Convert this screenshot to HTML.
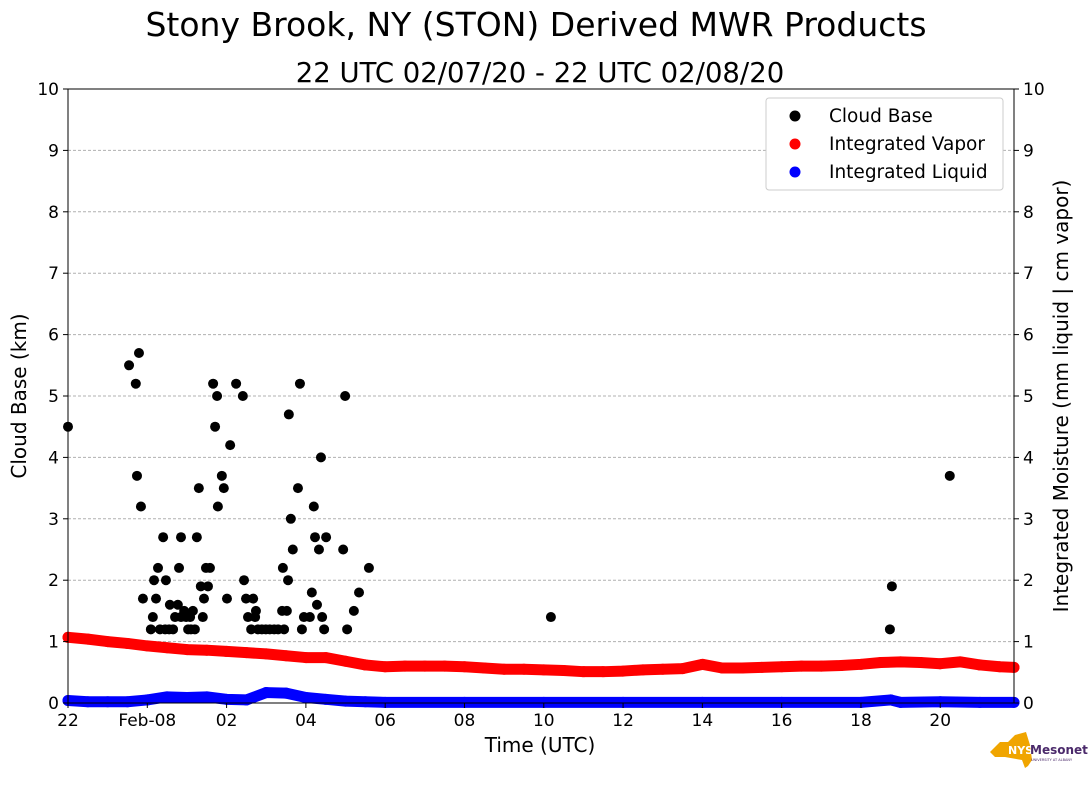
<!DOCTYPE html>
<html><head><meta charset="utf-8"><style>
body{margin:0;background:#fff;}
svg{display:block;font-family:"DejaVu Sans","Liberation Sans",sans-serif;}
</style></head><body>
<svg id="chart" width="1089" height="804">
<text x="536" y="36" font-size="33" text-anchor="middle">Stony Brook, NY (STON) Derived MWR Products</text>
<text x="540" y="82" font-size="27.5" text-anchor="middle">22 UTC 02/07/20 - 22 UTC 02/08/20</text>
<g id="grid"></g><g id="marks"></g><g id="axes"></g>
<text x="540" y="752" font-size="20" text-anchor="middle">Time (UTC)</text>
<text transform="translate(26,396) rotate(-90)" font-size="20" text-anchor="middle">Cloud Base (km)</text>
<text transform="translate(1068,396) rotate(-90)" font-size="20" text-anchor="middle">Integrated Moisture (mm liquid | cm vapor)</text>
<g>
<rect x="766" y="98" width="237" height="92" rx="3" fill="#fff" stroke="#ccc"/>
<circle cx="795" cy="116" r="5.5" fill="#000"/><text x="829" y="122" font-size="18.5">Cloud Base</text>
<circle cx="795" cy="144" r="5.5" fill="red"/><text x="829" y="150" font-size="18.5">Integrated Vapor</text>
<circle cx="795" cy="172" r="5.5" fill="blue"/><text x="829" y="178" font-size="18.5">Integrated Liquid</text>
</g>
<g>
<path d="M990 752 L1000 742 L1008 742 L1015 735 L1026 732 L1030 745 L1032 760 L1028 766 L1025 768 L1022 760 L1005 757 L995 757 Z" fill="#f0a500"/>
<text x="1008" y="754" font-size="11" font-weight="bold" fill="#fff">NYS</text>
<text x="1030" y="754" font-size="12" font-weight="bold" fill="#4b2a6b">Mesonet</text>
<text x="1031" y="761" font-size="3.5" fill="#4b2a6b">UNIVERSITY AT ALBANY</text>
</g>
</svg>
<script>
const cloudHours=[0,1.54,1.71,1.79,1.74,1.84,1.89,2.09,2.14,2.17,2.22,2.27,2.32,2.40,2.45,2.47,2.55,2.57,2.65,2.70,2.77,2.80,2.85,2.85,2.93,2.98,3.03,3.08,3.10,3.15,3.20,3.25,3.30,3.35,3.40,3.43,3.48,3.53,3.58,3.66,3.71,3.76,3.78,3.88,3.93,4.01,4.09,4.24,4.41,4.44,4.49,4.54,4.62,4.67,4.72,4.74,4.79,4.89,4.99,5.09,5.20,5.30,5.40,5.42,5.45,5.52,5.55,5.57,5.62,5.67,5.80,5.85,5.90,5.95,6.10,6.15,6.20,6.23,6.28,6.33,6.38,6.41,6.46,6.51,6.94,6.99,7.04,7.21,7.34,7.59,12.18,20.73,20.78,22.24];
const cloudKm=[4.5,5.5,5.2,5.7,3.7,3.2,1.7,1.2,1.4,2.0,1.7,2.2,1.2,2.7,1.2,2.0,1.2,1.6,1.2,1.4,1.6,2.2,2.7,1.4,1.5,1.4,1.2,1.4,1.2,1.5,1.2,2.7,3.5,1.9,1.4,1.7,2.2,1.9,2.2,5.2,4.5,5.0,3.2,3.7,3.5,1.7,4.2,5.2,5.0,2.0,1.7,1.4,1.2,1.7,1.4,1.5,1.2,1.2,1.2,1.2,1.2,1.2,1.5,2.2,1.2,1.5,2.0,4.7,3.0,2.5,3.5,5.2,1.2,1.4,1.4,1.8,3.2,2.7,1.6,2.5,4.0,1.4,1.2,2.7,2.5,5.0,1.2,1.5,1.8,2.2,1.4,1.2,1.9,3.7];
const vaporHours=[0,0.5,1,1.5,2,2.5,3,3.5,4,4.5,5,5.5,6,6.5,7,7.5,8,8.5,9,9.5,10,10.5,11,11.5,12,12.5,13,13.5,14,14.5,15,15.5,16,16.5,17,17.5,18,18.5,19,19.5,20,20.5,21,21.5,22,22.5,23,23.5,23.86];
const vaporVals=[1.07,1.04,1.0,0.97,0.93,0.9,0.87,0.86,0.84,0.82,0.8,0.77,0.74,0.74,0.68,0.62,0.59,0.6,0.6,0.6,0.59,0.57,0.55,0.55,0.54,0.53,0.51,0.51,0.52,0.54,0.55,0.56,0.63,0.57,0.57,0.58,0.59,0.6,0.6,0.61,0.63,0.66,0.67,0.66,0.64,0.67,0.62,0.59,0.58];
const liquidHours=[0,0.5,1,1.5,2,2.5,3,3.5,4,4.5,5,5.5,6,6.5,7,7.5,8,10,12,14,16,18,20,20.75,21,22,23,23.86];
const liquidVals=[0.04,0.02,0.02,0.02,0.05,0.1,0.09,0.1,0.06,0.05,0.17,0.16,0.09,0.06,0.03,0.02,0.01,0.01,0.01,0.01,0.01,0.01,0.01,0.05,0.01,0.02,0.01,0.01];
const xTickHours=[0,2,4,6,8,10,12,14,16,18,20,22];
const xTickLabels=["22","Feb-08","02","04","06","08","10","12","14","16","18","20"];
const yTicks=[0,1,2,3,4,5,6,7,8,9,10];

const X0=68,X1=1014,Y0=703,Y1=89,HMAX=23.86;
const xs=h=>X0+(X1-X0)*h/HMAX;
const ys=v=>Y0-(Y0-Y1)*v/10;
const NS="http://www.w3.org/2000/svg";
function mk(p,t,a){const e=document.createElementNS(NS,t);for(const k in a)e.setAttribute(k,a[k]);p.appendChild(e);return e;}
const grid=document.getElementById('grid'),marks=document.getElementById('marks'),axes=document.getElementById('axes');
yTicks.forEach(v=>{
 if(v>0&&v<10){const g=mk(grid,'line',{x1:X0,x2:X1,y1:ys(v),y2:ys(v),stroke:'#b0b0b0','stroke-dasharray':'3,2'});
 
 }
 [[X0,-1],[X1,1]].forEach(([x,d])=>{
  mk(axes,'line',{x1:x,x2:x+d*5,y1:ys(v),y2:ys(v),stroke:'#000'});
  const t=mk(axes,'text',{x:d<0?x-9:x+9,y:ys(v)+6,'font-size':17,'text-anchor':d<0?'end':'start'});t.textContent=v;
  
  
 });
});
xTickHours.forEach((h,i)=>{
 mk(axes,'line',{x1:xs(h),x2:xs(h),y1:Y0,y2:Y0+5,stroke:'#000'});
 const t=mk(axes,'text',{x:xs(h),y:Y0+23,'font-size':17,'text-anchor':'middle'});t.textContent=xTickLabels[i];
 
 
});
mk(axes,'rect',{x:X0,y:Y1,width:X1-X0,height:Y0-Y1,fill:'none',stroke:'#000','stroke-width':1});
function series(hs,vs,col,name){
 const g=mk(marks,'g',{});
 
 
 mk(g,'polyline',{points:hs.map((h,i)=>xs(h)+','+ys(vs[i])).join(' '),fill:'none',stroke:col,'stroke-width':11,'stroke-linecap':'round','stroke-linejoin':'round'});
 hs.forEach((h,i)=>mk(g,'circle',{cx:xs(h),cy:ys(vs[i]),r:5.5,fill:col}));
}
series(vaporHours,vaporVals,'red','integrated-vapor-series');
series(liquidHours,liquidVals,'blue','integrated-liquid-series');
const cg=mk(marks,'g',{});


cloudHours.forEach((h,i)=>{const c=mk(cg,'circle',{cx:xs(h),cy:ys(cloudKm[i]),r:5,fill:'#000'});
 
 });
</script>
</body></html>
